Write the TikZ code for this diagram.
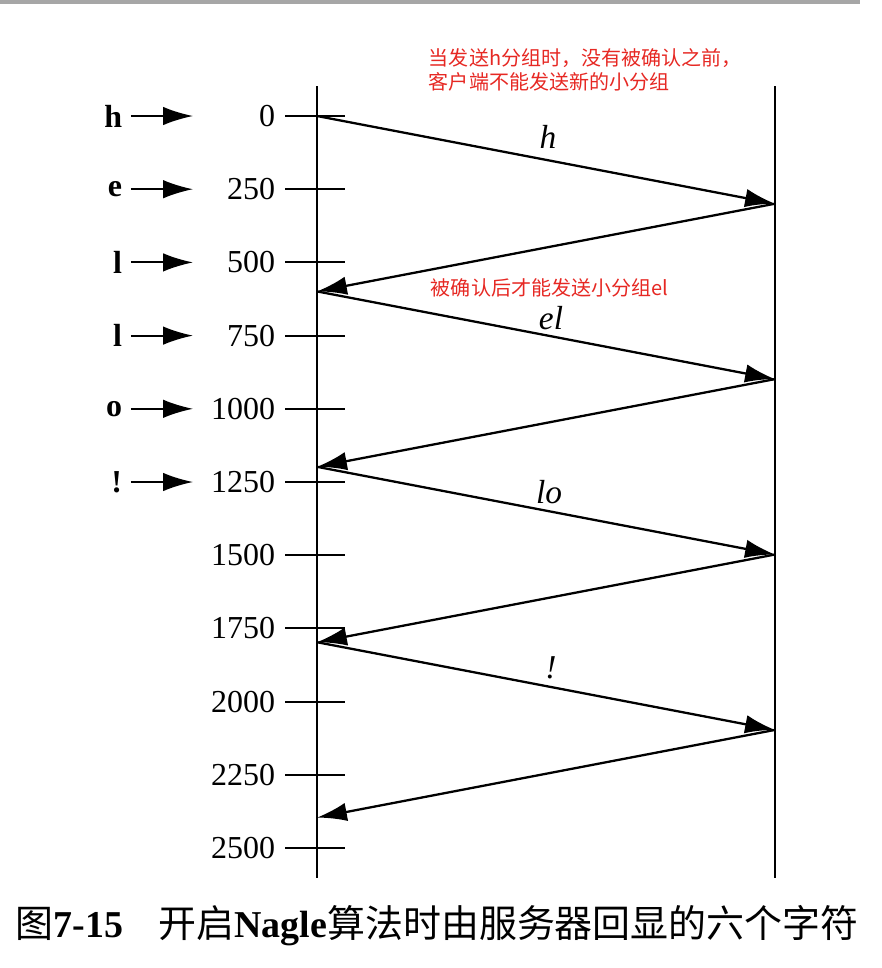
\documentclass[tikz,border=0pt]{standalone}
\usepackage{fontspec}
\setmainfont{Liberation Serif}
\newfontfamily\cjk{Noto Sans CJK SC}
\usetikzlibrary{arrows.meta}
\definecolor{notered}{RGB}{230,40,35}
\tikzset{
  num/.style={anchor=east,inner sep=0pt,font=\fontsize{18.2pt}{20pt}\selectfont},
  chr/.style={anchor=east,inner sep=0pt,font=\bfseries\fontsize{18.2pt}{20pt}\selectfont},
  seg/.style={line width=1.3pt,-{Latex[length=17pt,width=10.5pt]}},
  feed/.style={shorten <=4.5pt,-{Latex[length=17pt,width=10.5pt]}},
  pkt/.style={inner sep=0pt,font=\itshape\fontsize{19pt}{21pt}\selectfont},
  note/.style={anchor=base west,inner sep=0pt,text=notered,font=\cjk\fontsize{11.4pt}{13pt}\selectfont},
}
\begin{document}
\begin{tikzpicture}[x=0.02cm,y=-0.02cm,line width=1.1pt]
\useasboundingbox (0,0) rectangle (882,968);
\fill[gray!70] (0,0) rectangle (860,4);
% client and server
\draw (317,86) -- (317,878);
\draw (775,86) -- (775,878);
% time axis
\draw (285,116) -- (345,116) (276,116) node[num] (t0) {0};
\draw (285,189.2) -- (345,189.2) (276,189.2) node[num] (t250) {250};
\draw (285,262.4) -- (345,262.4) (276,262.4) node[num] (t500) {500};
\draw (285,335.6) -- (345,335.6) (276,335.6) node[num] (t750) {750};
\draw (285,408.8) -- (345,408.8) (276,408.8) node[num] (t1000) {1000};
\draw (285,482) -- (345,482) (276,482) node[num] (t1250) {1250};
\draw (285,555.2) -- (345,555.2) (276,555.2) node[num] (t1500) {1500};
\draw (285,628.4) -- (345,628.4) (276,628.4) node[num] (t1750) {1750};
\draw (285,701.6) -- (345,701.6) (276,701.6) node[num] (t2000) {2000};
\draw (285,774.8) -- (345,774.8) (276,774.8) node[num] (t2250) {2250};
\draw (285,848) -- (345,848) (276,848) node[num] (t2500) {2500};
% typed characters
\node[chr] (ch) at (123,116) {h};
\node[chr] (ce) at (123,189.2) {e};
\node[chr] (cl) at (123,262.4) {l};
\node[chr] (cll) at (123,335.6) {l};
\node[chr] (co) at (123,408.8) {o};
\node[chr] (cx) at (123,482) {!};
\coordinate (ah) at (193,116);
\coordinate (ae) at (193,189.2);
\coordinate (al) at (193,262.4);
\coordinate (all) at (193,335.6);
\coordinate (ao) at (193,408.8);
\coordinate (ax) at (193,482);
\draw[feed] (ch) -- (ah);
\draw[feed] (ce) -- (ae);
\draw[feed] (cl) -- (al);
\draw[feed] (cll) -- (all);
\draw[feed] (co) -- (ao);
\draw[feed] (cx) -- (ax);
% segments
\coordinate (c0) at (317,116);
\coordinate (s1) at (775,203.7);
\coordinate (c2) at (317,291.4);
\coordinate (s3) at (775,379.1);
\coordinate (c4) at (317,466.8);
\coordinate (s5) at (775,554.5);
\coordinate (c6) at (317,642.2);
\coordinate (s7) at (775,729.9);
\coordinate (c8) at (317,817.6);
\draw[seg] (c0) -- (s1);
\draw[seg] (s1) -- (c2);
\draw[seg] (c2) -- (s3);
\draw[seg] (s3) -- (c4);
\draw[seg] (c4) -- (s5);
\draw[seg] (s5) -- (c6);
\draw[seg] (c6) -- (s7);
\draw[seg] (s7) -- (c8);
\node[pkt] (ph) at (548,137) {h};
\node[pkt] (pel) at (551,318) {el};
\node[pkt] (plo) at (549,492) {lo};
\node[pkt] (px) at (551,668) {!};
% notes
\node[note] (n1a) at (428,65) {当发送h分组时，没有被确认之前，};
\node[note] (n1b) at (428,89) {客户端不能发送新的小分组};
\node[note] (n2) at (430,295) {被确认后才能发送小分组el};
% caption
\node[anchor=base west,inner sep=0pt,font=\fontsize{21.6pt}{24pt}\selectfont] (cap) at (15,937)
  {{\cjk 图}\textbf{7-15}\hspace{20pt}{\cjk 开启}\textbf{Nagle}{\cjk 算法时由服务器回显的六个字符}};
\end{tikzpicture}
\end{document}
